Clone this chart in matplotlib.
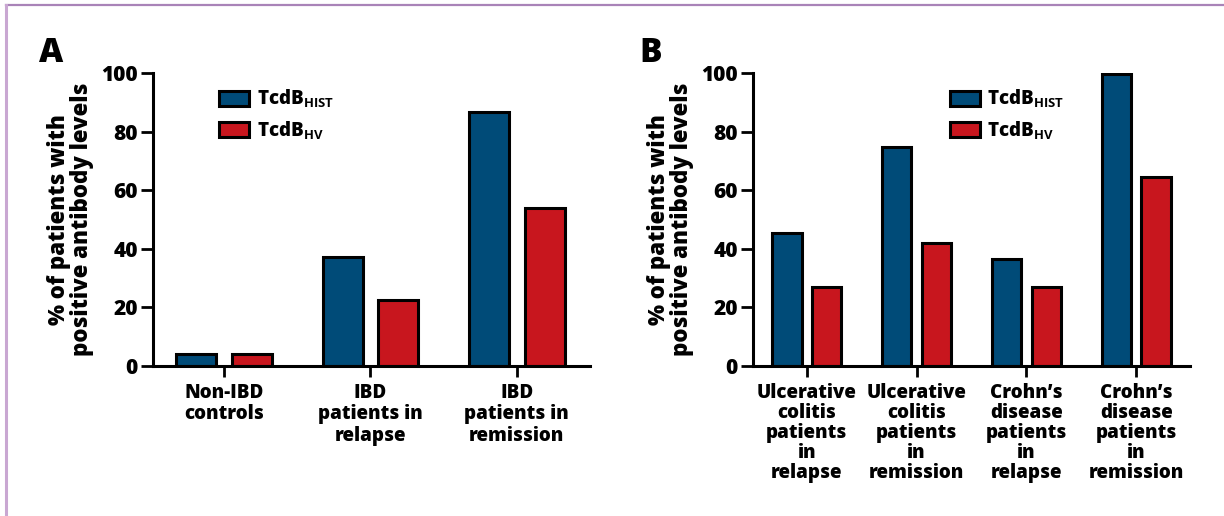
import matplotlib
matplotlib.use("Agg")
import matplotlib.pyplot as plt
import numpy as np
from matplotlib.lines import Line2D
from matplotlib.patches import Patch

plt.rcParams["font.family"] = "Open Sans"
plt.rcParams["font.weight"] = 800
plt.rcParams["axes.labelweight"] = 800
plt.rcParams["mathtext.fontset"] = "custom"
plt.rcParams["mathtext.rm"] = "Open Sans:bold"
plt.rcParams["mathtext.bf"] = "Open Sans:bold"

## data
cats_a = ["Non-IBD\ncontrols", "IBD\npatients in\nrelapse", "IBD\npatients in\nremission"]
hist_a = [4.1, 37.3, 86.6]
hv_a = [4.1, 22.6, 53.8]

cats_b = ["Ulcerative\ncolitis\npatients\nin\nrelapse", "Ulcerative\ncolitis\npatients\nin\nremission",
          "Crohn\u2019s\ndisease\npatients\nin\nrelapse", "Crohn\u2019s\ndisease\npatients\nin\nremission"]
hist_b = [45.5, 74.8, 36.4, 99.7]
hv_b = [27.1, 41.9, 27.1, 64.6]

series_labels = ["TcdB$_{\\mathrm{HIST}}$", "TcdB$_{\\mathrm{HV}}$"]
blue = "#004b78"
red = "#c8161e"

fig = plt.figure(figsize=(12.24, 5.16), dpi=100)

# purple frame lines on top and left
fig.add_artist(Line2D([6 / 1224, 1], [1 - 5 / 516, 1 - 5 / 516], color="#a983b8", lw=1.6))
fig.add_artist(Line2D([6 / 1224, 6 / 1224], [0, 1 - 5 / 516], color="#c9a7d2", lw=2.2))


def panel(ax, cats, hist, hv, width, offset, xlim, lab_ls, lab_size, leg_x):
    x = np.arange(len(cats))
    ax.bar(x - offset, hist, width, color=blue, edgecolor="black", linewidth=2.2)
    ax.bar(x + offset, hv, width, color=red, edgecolor="black", linewidth=2.2)
    ax.set_xlim(*xlim)
    ax.set_ylim(0, 100)
    ax.set_yticks([0, 20, 40, 60, 80, 100])
    ax.set_xticks(x)
    ax.set_xticklabels(cats, fontsize=lab_size, linespacing=lab_ls, va="top")
    for s in ["top", "right"]:
        ax.spines[s].set_visible(False)
    for s in ["left", "bottom"]:
        ax.spines[s].set_linewidth(2.2)
    ax.tick_params(axis="y", length=9, width=2, labelsize=15, pad=2)
    ax.tick_params(axis="x", length=8, width=2, pad=4)
    ax.set_ylabel("% of patients with\npositive antibody levels", fontsize=16,
                  linespacing=0.94, labelpad=5)
    handles = [Patch(facecolor=blue, edgecolor="black", linewidth=2.2),
               Patch(facecolor=red, edgecolor="black", linewidth=2.2)]
    ax.legend(handles, series_labels, loc="upper left", bbox_to_anchor=(leg_x, 0.95),
              frameon=False, fontsize=13.5, handlelength=1.6, handleheight=0.85,
              handletextpad=0.4, labelspacing=0.5, borderaxespad=0, borderpad=0)


ax_a = fig.add_axes([153 / 1224, 1 - 366 / 516, 437 / 1224, 293 / 516])
panel(ax_a, cats_a, hist_a, hv_a, 0.274, 0.19, (-0.485, 2.5), 1.1, 13.5, 0.152)

ax_b = fig.add_axes([753 / 1224, 1 - 366 / 516, 437 / 1224, 293 / 516])
panel(ax_b, cats_b, hist_b, hv_b, 0.265, 0.18, (-0.49, 3.49), 1.0, 13.5, 0.45)

fig.text(51 / 1224, 1 - 62 / 516, "A", fontsize=24, ha="center", va="baseline")
fig.text(651 / 1224, 1 - 62 / 516, "B", fontsize=24, ha="center", va="baseline")

fig.savefig("out.png", dpi=100)
